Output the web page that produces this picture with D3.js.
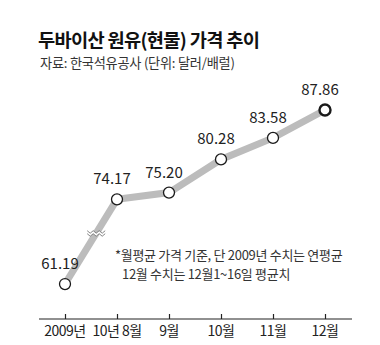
<!DOCTYPE html>
<html><head><meta charset="utf-8">
<script src="https://cdn.jsdelivr.net/npm/d3@7"></script>
<style>
html,body{margin:0;padding:0;background:#fff;}
svg{display:block;}
text{font-family:"Noto Sans CJK KR","Noto Sans",sans-serif;}
</style></head>
<body>
<svg id="chart" width="380" height="345"></svg>
<script>
const categories = ["2009년", "10년 8월", "9월", "10월", "11월", "12월"];
const values = [61.19, 74.17, 75.20, 80.28, 83.58, 87.86];
const valueLabels = ["61.19", "74.17", "75.20", "80.28", "83.58", "87.86"];
const title = "두바이산 원유(현물) 가격 추이";
const subtitle = "자료: 한국석유공사 (단위: 달러/배럴)";
const notes = ["*월평균 가격 기준, 단 2009년 수치는 연평균", "12월 수치는 12월1~16일 평균치"];

(function () {
const svg = d3.select("#chart");

const x = d3.scalePoint().domain(categories).range([65, 325]);
const y = d3.scaleLinear().domain([60, 90]).range([291.8, 96]);

// title
svg.append("text").attr("x", 38).attr("y", 47)
  .attr("font-size", 18.7).attr("font-weight", "bold").attr("fill", "#111")
  .attr("letter-spacing", -0.7).text(title);
svg.append("text").attr("x", 40).attr("y", 68)
  .attr("font-size", 13.2).attr("fill", "#333").attr("letter-spacing", -0.25)
  .text(subtitle);

// axis
const axisY = 319;
svg.append("line").attr("x1", 39).attr("x2", 352).attr("y1", axisY).attr("y2", axisY)
  .attr("stroke", "#222").attr("stroke-width", 1.2);
const ax = d3.axisTop(x).tickSize(5).tickSizeOuter(0).tickFormat("");
const axG = svg.append("g").attr("transform", `translate(0,${axisY})`).call(ax);
axG.select(".domain").remove();
axG.selectAll(".tick line").attr("stroke", "#222").attr("stroke-width", 1.2);
svg.selectAll(".xlab").data(categories).enter().append("text")
  .attr("x", d => x(d)).attr("y", 336).attr("text-anchor", "middle")
  .attr("font-size", 14).attr("fill", "#222").attr("letter-spacing", -0.5)
  .text(d => d);

// line
const pts = categories.map((c, i) => [x(c), y(values[i])]);
svg.append("path").attr("d", d3.line()(pts))
  .attr("fill", "none").attr("stroke", "#bcbcbc").attr("stroke-width", 7);

// break symbol
const t = 0.6;
const bx = pts[0][0] + (pts[1][0] - pts[0][0]) * t;
const by = pts[0][1] + (pts[1][1] - pts[0][1]) * t;
const zig = (oy) => {
  const arr = [];
  for (let k = 0; k <= 6; k++) arr.push([bx - 9 + k * 3, by + oy + (k % 2 ? 2.5 : 0)]);
  return arr;
};
const zTop = zig(-2.5), zBot = zig(0.5);
svg.append("path").attr("d", d3.line()(zTop.concat(zBot.slice().reverse())) + "Z")
  .attr("fill", "#fff").attr("stroke", "none");
[zTop, zBot].forEach(p => svg.append("path").attr("d", d3.line()(p))
  .attr("fill", "none").attr("stroke", "#666").attr("stroke-width", 0.8));

// points
svg.selectAll(".pt").data(pts).enter().append("circle")
  .attr("cx", d => d[0]).attr("cy", d => d[1]).attr("r", 5.5)
  .attr("fill", "#fff").attr("stroke", "#1a1a1a")
  .attr("stroke-width", (d, i) => i === pts.length - 1 ? 2.4 : 1.3);

// value labels
svg.selectAll(".vl").data(pts).enter().append("text")
  .attr("x", d => d[0] - 5).attr("y", d => d[1] - 15)
  .attr("text-anchor", "middle").attr("font-size", 15).attr("fill", "#222")
  .attr("font-family", "'Liberation Sans', Arial, sans-serif")
  .text((d, i) => valueLabels[i]);

// notes
svg.append("text").attr("x", 115).attr("y", 260).attr("font-size", 13)
  .attr("fill", "#333").attr("letter-spacing", -0.3).text(notes[0]);
svg.append("text").attr("x", 122).attr("y", 279).attr("font-size", 13)
  .attr("fill", "#333").attr("letter-spacing", -0.3).text(notes[1]);
})();
</script>
</body></html>
